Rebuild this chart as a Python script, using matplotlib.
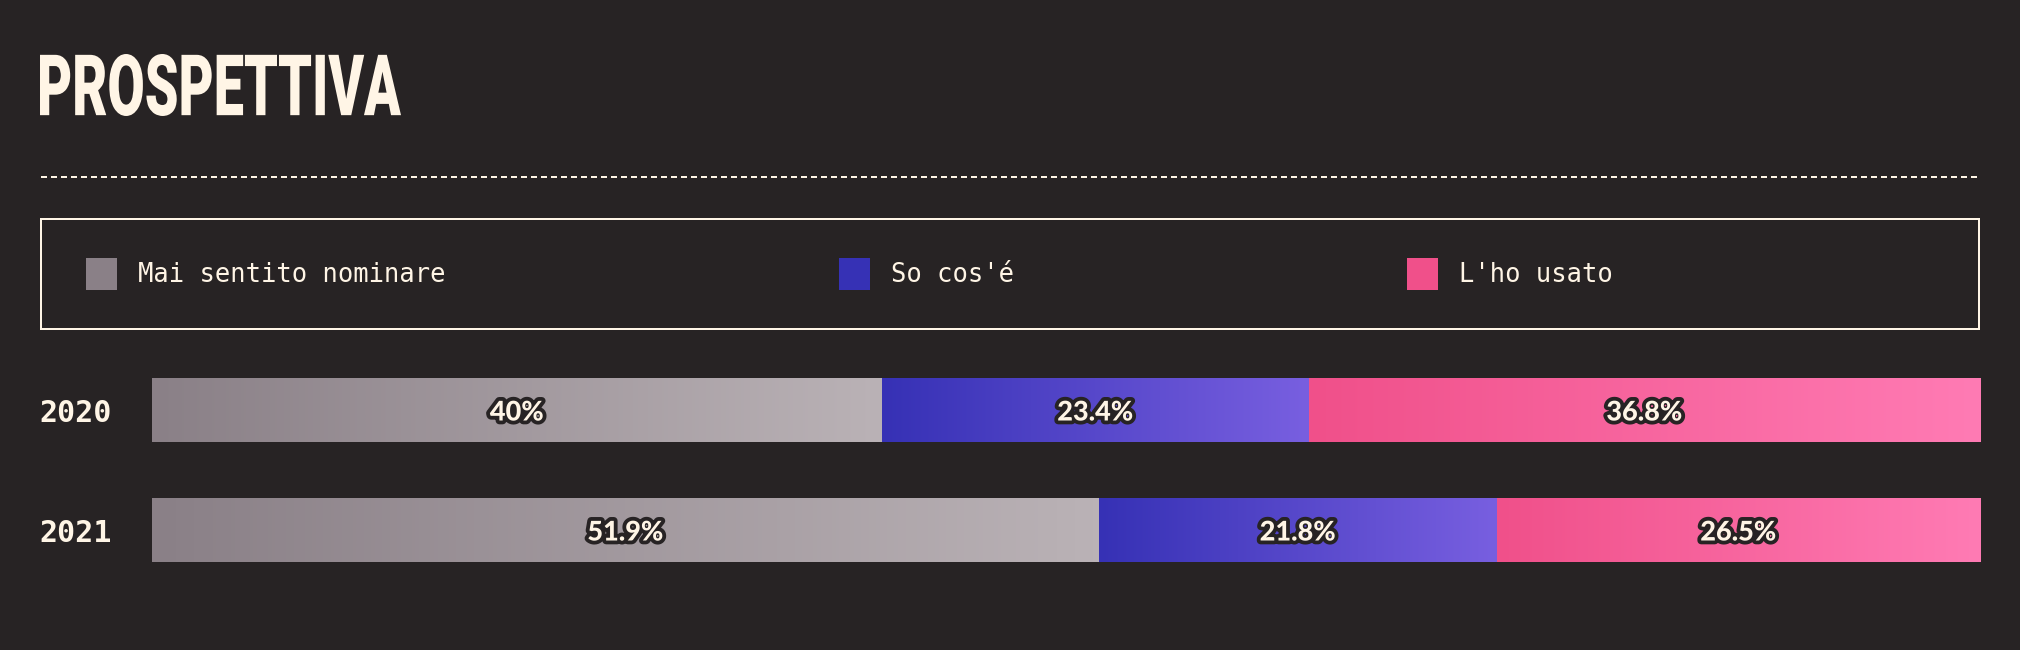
import numpy as np
import matplotlib
matplotlib.use("Agg")
from matplotlib import pyplot as plt
from matplotlib.patches import Patch, Rectangle, PathPatch
from matplotlib.colors import LinearSegmentedColormap
from matplotlib.textpath import TextPath
from matplotlib.font_manager import FontProperties
from matplotlib.transforms import Affine2D
import matplotlib.patheffects as pe

# data
years = ["2020", "2021"]
categories = ["Mai sentito nominare", "So cos'é", "L'ho usato"]
mai_sentito = [40, 51.9]
so_cose = [23.4, 21.8]
usato = [36.8, 26.5]

bg = "#272324"
cream = "#fff5e6"
grad_colors = [("#8a8087", "#bab2b6"), ("#3631b5", "#785fe0"), ("#f0508a", "#ff7bb4")]

W, H = 2020, 650
fig = plt.figure(figsize=(W / 100, H / 100), dpi=100, facecolor=bg)

# overlay axes in pixel units, origin top-left
ov = fig.add_axes([0, 0, 1, 1])
ov.set_xlim(0, W)
ov.set_ylim(H, 0)
ov.axis("off")

# title, condensed by squeezing the glyph outlines
tp = TextPath((0, 0), "PROSPETTIVA", size=100,
              prop=FontProperties(family="Roboto", weight=900))
ext = tp.get_extents()
sx = (401 - 40) / ext.width
sy = (116 - 54) / ext.height
tr = Affine2D().translate(-ext.x0, -ext.y0).scale(sx, -sy).translate(40, 116)
ov.add_patch(PathPatch(tr.transform_path(tp), facecolor=cream, edgecolor="none",
                       transform=ov.transData))

# dashed separator and legend frame
ov.plot([41, 1979], [176.5, 176.5], color=cream, lw=1.44, linestyle=(0, (3, 2)))
ov.add_patch(Rectangle((41, 219), 1938, 110, fill=False, ec=cream, lw=1.44))

# stacked bars
ax = fig.add_axes([152 / W, (H - 590) / H, 1828 / W, 240 / H])
ax.set_facecolor("none")
y = np.arange(len(years))
series = [mai_sentito, so_cose, usato]
total = max(np.sum(series, axis=0))
left = np.zeros(len(years))
label_font = FontProperties(family="Lato", weight="black", size=19.5)
for vals, (c0, c1), name in zip(series, grad_colors, categories):
    vals = np.array(vals)
    bars = ax.barh(y, vals, left=left, height=0.533, color=c0, label=name, linewidth=0)
    cmap = LinearSegmentedColormap.from_list(name, [c0, c1])
    for b in bars:
        x0, y0 = b.get_x(), b.get_y()
        im = ax.imshow(np.linspace(0, 1, 256).reshape(1, -1), cmap=cmap,
                       extent=(x0, x0 + b.get_width(), y0 + b.get_height(), y0),
                       aspect="auto", interpolation="bicubic", zorder=2)
        im.set_clip_path(b)
    txts = ax.bar_label(bars, labels=[f"{v:g}%" for v in vals], label_type="center",
                        color=cream, fontproperties=label_font, zorder=4)
    for t in txts:
        t.xyann = (0, -1.8)
        t.set_path_effects([pe.withStroke(linewidth=5.5, foreground=bg)])
    left += vals

ax.set_xlim(0, total)
ax.set_ylim(1.5, -0.5)
ax.set_yticks(y, years)
ax.tick_params(axis="y", length=0, pad=28.8, labelcolor=cream)
for t in ax.get_yticklabels():
    t.set_fontfamily("DejaVu Sans Mono")
    t.set_fontweight("bold")
    t.set_fontsize(21.6)
ax.set_xticks([])
for s in ax.spines.values():
    s.set_visible(False)

# legend
handles = [Patch(facecolor=c0, edgecolor="none") for c0, _ in grad_colors]
fig.legend(handles, categories, loc="center left", bbox_to_anchor=(86 / W, 1 - 274 / H),
           ncol=3, frameon=False, prop=FontProperties(family="DejaVu Sans Mono", size=18.4),
           labelcolor=cream, handlelength=1.21, handleheight=1.5, handletextpad=0.82,
           columnspacing=15.4, borderpad=0, borderaxespad=0)

fig.savefig("out.png", dpi=100, facecolor=bg)
